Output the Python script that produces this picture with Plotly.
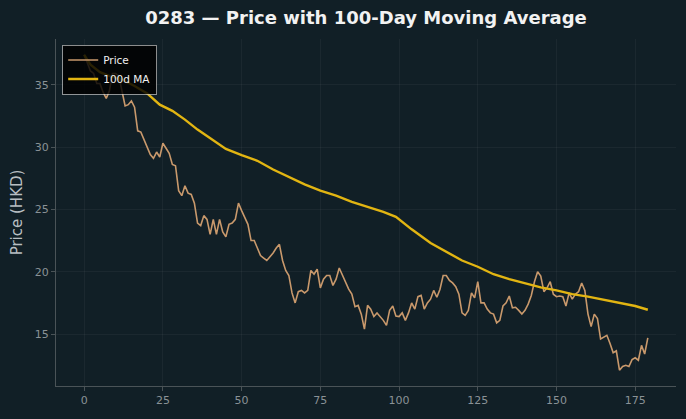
import plotly.graph_objects as go

# Price series (index = trading day 0..179)
price = [
    37.4, 36.7, 36.1, 35.9, 35.1, 35.1, 34.4, 33.9, 34.5, 35.9,
    35.9, 35.7, 34.6, 33.3, 33.4, 33.7, 33.2, 31.3, 31.2, 30.6,
    29.9, 29.4, 29.1, 29.6, 29.2, 30.3, 29.9, 29.5, 28.6, 28.5,
    26.5, 26.1, 26.9, 26.3, 26.2, 25.5, 23.9, 23.7, 24.5, 24.2,
    23.0, 24.2, 23.0, 24.2, 23.2, 22.8, 23.8, 23.9, 24.2, 25.5,
    24.9, 24.4, 23.8, 22.5, 22.5, 21.9, 21.3, 21.1, 20.9, 21.2,
    21.5, 21.9, 22.2, 20.9, 20.1, 19.7, 18.3, 17.5, 18.4, 18.5,
    18.3, 18.5, 20.1, 19.8, 20.2, 18.7, 19.4, 19.7, 19.7, 18.9,
    19.4, 20.3, 19.7, 19.2, 18.6, 18.2, 17.2, 17.3, 16.6, 15.4,
    17.3, 17.0, 16.4, 16.7, 16.4, 16.1, 15.7, 16.9, 17.25, 16.45,
    16.4, 16.7, 16.1, 16.7, 17.5, 17.0, 18.0, 18.1, 17.0, 17.5,
    17.8, 18.5, 17.95, 18.6, 19.7, 19.7, 19.3, 19.1, 18.8, 18.2,
    16.7, 16.5, 16.9, 18.3, 17.9, 19.2, 17.5, 17.5, 17.0, 16.7,
    16.6, 15.9, 16.1, 17.25, 17.5, 18.05, 17.1, 17.15, 16.9, 16.6,
    16.9, 17.4, 18.1, 19.2, 20.0, 19.65, 18.4, 18.7, 19.2, 18.2,
    18.0, 18.05, 18.0, 17.25, 18.3, 17.8, 18.2, 18.4, 19.1, 18.5,
    16.6, 15.6, 16.6, 16.25, 14.6, 14.75, 14.9, 14.25, 13.5, 13.65,
    12.1, 12.4, 12.5, 12.4, 12.95, 13.1, 12.9, 14.1, 13.4, 14.7,
]
days = list(range(len(price)))

# 100-day moving average at these days
ma_days = [0, 2, 5, 8, 12, 16, 20, 24, 28, 32, 36, 40, 45, 50, 55, 60, 65, 70,
           75, 80, 85, 90, 95, 99, 104, 110, 115, 120, 125, 130, 135, 140,
           145, 150, 155, 160, 165, 170, 175, 179]
ma_vals = [37.4, 36.6, 36.0, 35.7, 35.4, 34.9, 34.3, 33.4, 32.9, 32.2, 31.4,
           30.7, 29.85, 29.35, 28.9, 28.2, 27.6, 27.0, 26.5, 26.1, 25.6, 25.2,
           24.8, 24.4, 23.4, 22.3, 21.6, 20.9, 20.4, 19.8, 19.4, 19.05, 18.75,
           18.5, 18.2, 18.0, 17.75, 17.55, 17.25, 16.95]

x_ticks = [0, 25, 50, 75, 100, 125, 150, 175]
y_ticks = [15, 20, 25, 30, 35]

BG = "#111f26"
FONT = "DejaVu Sans, Arial, sans-serif"

fig = go.Figure()
fig.add_trace(go.Scatter(x=days, y=price, mode="lines", name="Price",
                         line=dict(color="#c9996c", width=1.6)))
fig.add_trace(go.Scatter(x=ma_days, y=ma_vals, mode="lines", name="100d MA",
                         line=dict(color="#e2b512", width=2.4)))

axis_common = dict(
    showline=True, linecolor="#4a5357", linewidth=1,
    ticks="outside", ticklen=4, tickcolor="#4a5357",
    tickfont=dict(color="#8a9296", size=11, family=FONT),
    showgrid=True, gridcolor="rgba(255,255,255,0.045)", gridwidth=1,
    zeroline=False, mirror=False,
)

fig.update_layout(
    width=686, height=419,
    paper_bgcolor=BG, plot_bgcolor=BG,
    margin=dict(l=56, r=10, t=39, b=33),
    title=dict(text="<b>0283 — Price with 100-Day Moving Average</b>",
               xref="paper", x=0.5, xanchor="center",
               yref="container", y=0.957, yanchor="middle",
               font=dict(color="#f2f2f2", size=18, family=FONT)),
    xaxis=dict(range=[-8.95, 187.95], tickvals=x_ticks, **axis_common),
    yaxis=dict(range=[10.835, 38.665], tickvals=y_ticks,
               title=dict(text="Price (HKD)", standoff=8,
                          font=dict(color="#b8bec2", size=15, family=FONT)),
               **axis_common),
    legend=dict(x=0.01, y=0.984, xanchor="left", yanchor="top",
                bgcolor="rgba(0,0,0,0.82)", bordercolor="rgba(200,200,200,0.7)",
                borderwidth=1, font=dict(color="#f0f0f0", size=10.5, family=FONT),
                tracegroupgap=0),
    showlegend=True,
)

fig.write_html("out.html")
